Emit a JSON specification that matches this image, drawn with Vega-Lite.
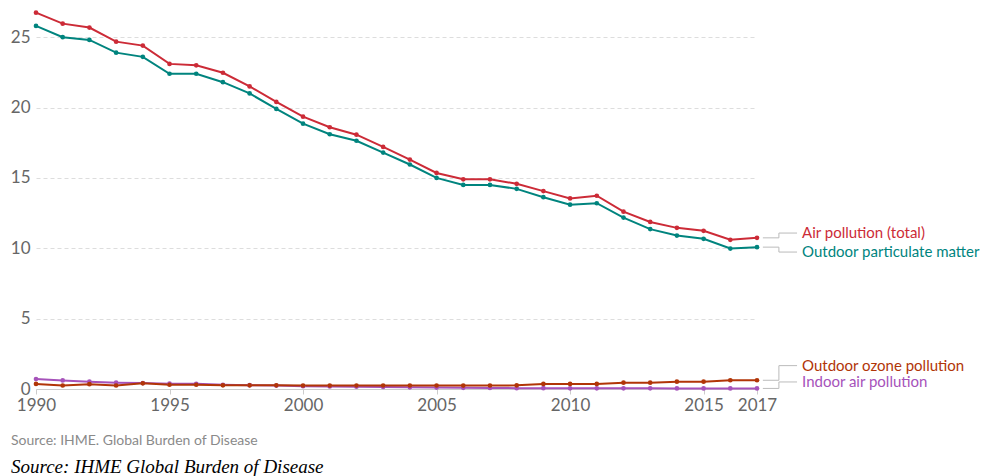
{
  "$schema": "https://vega.github.io/schema/vega-lite/v6.json",
  "width": 721,
  "height": 380,
  "autosize": "none",
  "padding": {"left": 36, "top": 9, "right": 227, "bottom": 87},
  "background": "white",
  "config": {
    "view": {"stroke": null},
    "font": "Lato",
    "axis": {"labelFont": "Lato", "labelColor": "#666666", "labelFontSize": 17}
  },
  "title": {
    "text": "Source: IHME. Global Burden of Disease",
    "subtitle": "Source: IHME Global Burden of Disease",
    "orient": "bottom",
    "anchor": "start",
    "frame": "group",
    "dx": -25,
    "offset": 21,
    "font": "Lato",
    "fontSize": 14,
    "fontWeight": "normal",
    "color": "#8a8a8a",
    "subtitleFont": "Liberation Serif",
    "subtitleFontStyle": "italic",
    "subtitleFontSize": 19,
    "subtitleColor": "#000000",
    "subtitlePadding": 10
  },
  "datasets": {
    "series": [
      {"year": 1990, "series": "Air pollution (total)", "value": 26.74},
      {"year": 1991, "series": "Air pollution (total)", "value": 25.96},
      {"year": 1992, "series": "Air pollution (total)", "value": 25.68},
      {"year": 1993, "series": "Air pollution (total)", "value": 24.68},
      {"year": 1994, "series": "Air pollution (total)", "value": 24.4},
      {"year": 1995, "series": "Air pollution (total)", "value": 23.1},
      {"year": 1996, "series": "Air pollution (total)", "value": 23.0},
      {"year": 1997, "series": "Air pollution (total)", "value": 22.47},
      {"year": 1998, "series": "Air pollution (total)", "value": 21.5},
      {"year": 1999, "series": "Air pollution (total)", "value": 20.4},
      {"year": 2000, "series": "Air pollution (total)", "value": 19.35},
      {"year": 2001, "series": "Air pollution (total)", "value": 18.6},
      {"year": 2002, "series": "Air pollution (total)", "value": 18.07},
      {"year": 2003, "series": "Air pollution (total)", "value": 17.2},
      {"year": 2004, "series": "Air pollution (total)", "value": 16.3},
      {"year": 2005, "series": "Air pollution (total)", "value": 15.35},
      {"year": 2006, "series": "Air pollution (total)", "value": 14.9},
      {"year": 2007, "series": "Air pollution (total)", "value": 14.9},
      {"year": 2008, "series": "Air pollution (total)", "value": 14.58},
      {"year": 2009, "series": "Air pollution (total)", "value": 14.06},
      {"year": 2010, "series": "Air pollution (total)", "value": 13.54},
      {"year": 2011, "series": "Air pollution (total)", "value": 13.73},
      {"year": 2012, "series": "Air pollution (total)", "value": 12.6},
      {"year": 2013, "series": "Air pollution (total)", "value": 11.87},
      {"year": 2014, "series": "Air pollution (total)", "value": 11.45},
      {"year": 2015, "series": "Air pollution (total)", "value": 11.24},
      {"year": 2016, "series": "Air pollution (total)", "value": 10.6},
      {"year": 2017, "series": "Air pollution (total)", "value": 10.74},
      {"year": 1990, "series": "Outdoor particulate matter", "value": 25.8},
      {"year": 1991, "series": "Outdoor particulate matter", "value": 25.0},
      {"year": 1992, "series": "Outdoor particulate matter", "value": 24.8},
      {"year": 1993, "series": "Outdoor particulate matter", "value": 23.9},
      {"year": 1994, "series": "Outdoor particulate matter", "value": 23.6},
      {"year": 1995, "series": "Outdoor particulate matter", "value": 22.4},
      {"year": 1996, "series": "Outdoor particulate matter", "value": 22.4},
      {"year": 1997, "series": "Outdoor particulate matter", "value": 21.8},
      {"year": 1998, "series": "Outdoor particulate matter", "value": 21.0},
      {"year": 1999, "series": "Outdoor particulate matter", "value": 19.9},
      {"year": 2000, "series": "Outdoor particulate matter", "value": 18.85},
      {"year": 2001, "series": "Outdoor particulate matter", "value": 18.1},
      {"year": 2002, "series": "Outdoor particulate matter", "value": 17.64},
      {"year": 2003, "series": "Outdoor particulate matter", "value": 16.8},
      {"year": 2004, "series": "Outdoor particulate matter", "value": 15.95},
      {"year": 2005, "series": "Outdoor particulate matter", "value": 15.0},
      {"year": 2006, "series": "Outdoor particulate matter", "value": 14.5},
      {"year": 2007, "series": "Outdoor particulate matter", "value": 14.5},
      {"year": 2008, "series": "Outdoor particulate matter", "value": 14.22},
      {"year": 2009, "series": "Outdoor particulate matter", "value": 13.63},
      {"year": 2010, "series": "Outdoor particulate matter", "value": 13.1},
      {"year": 2011, "series": "Outdoor particulate matter", "value": 13.2},
      {"year": 2012, "series": "Outdoor particulate matter", "value": 12.18},
      {"year": 2013, "series": "Outdoor particulate matter", "value": 11.36},
      {"year": 2014, "series": "Outdoor particulate matter", "value": 10.9},
      {"year": 2015, "series": "Outdoor particulate matter", "value": 10.67},
      {"year": 2016, "series": "Outdoor particulate matter", "value": 9.98},
      {"year": 2017, "series": "Outdoor particulate matter", "value": 10.08},
      {"year": 1990, "series": "Indoor air pollution", "value": 0.71},
      {"year": 1991, "series": "Indoor air pollution", "value": 0.61},
      {"year": 1992, "series": "Indoor air pollution", "value": 0.52},
      {"year": 1993, "series": "Indoor air pollution", "value": 0.45},
      {"year": 1994, "series": "Indoor air pollution", "value": 0.42},
      {"year": 1995, "series": "Indoor air pollution", "value": 0.38},
      {"year": 1996, "series": "Indoor air pollution", "value": 0.37},
      {"year": 1997, "series": "Indoor air pollution", "value": 0.3},
      {"year": 1998, "series": "Indoor air pollution", "value": 0.27},
      {"year": 1999, "series": "Indoor air pollution", "value": 0.24},
      {"year": 2000, "series": "Indoor air pollution", "value": 0.2},
      {"year": 2001, "series": "Indoor air pollution", "value": 0.18},
      {"year": 2002, "series": "Indoor air pollution", "value": 0.16},
      {"year": 2003, "series": "Indoor air pollution", "value": 0.14},
      {"year": 2004, "series": "Indoor air pollution", "value": 0.12},
      {"year": 2005, "series": "Indoor air pollution", "value": 0.1},
      {"year": 2006, "series": "Indoor air pollution", "value": 0.08},
      {"year": 2007, "series": "Indoor air pollution", "value": 0.07},
      {"year": 2008, "series": "Indoor air pollution", "value": 0.06},
      {"year": 2009, "series": "Indoor air pollution", "value": 0.06},
      {"year": 2010, "series": "Indoor air pollution", "value": 0.05},
      {"year": 2011, "series": "Indoor air pollution", "value": 0.05},
      {"year": 2012, "series": "Indoor air pollution", "value": 0.05},
      {"year": 2013, "series": "Indoor air pollution", "value": 0.05},
      {"year": 2014, "series": "Indoor air pollution", "value": 0.04},
      {"year": 2015, "series": "Indoor air pollution", "value": 0.04},
      {"year": 2016, "series": "Indoor air pollution", "value": 0.04},
      {"year": 2017, "series": "Indoor air pollution", "value": 0.04},
      {"year": 1990, "series": "Outdoor ozone pollution", "value": 0.36},
      {"year": 1991, "series": "Outdoor ozone pollution", "value": 0.25},
      {"year": 1992, "series": "Outdoor ozone pollution", "value": 0.34},
      {"year": 1993, "series": "Outdoor ozone pollution", "value": 0.25},
      {"year": 1994, "series": "Outdoor ozone pollution", "value": 0.4},
      {"year": 1995, "series": "Outdoor ozone pollution", "value": 0.3},
      {"year": 1996, "series": "Outdoor ozone pollution", "value": 0.3},
      {"year": 1997, "series": "Outdoor ozone pollution", "value": 0.26},
      {"year": 1998, "series": "Outdoor ozone pollution", "value": 0.26},
      {"year": 1999, "series": "Outdoor ozone pollution", "value": 0.26},
      {"year": 2000, "series": "Outdoor ozone pollution", "value": 0.25},
      {"year": 2001, "series": "Outdoor ozone pollution", "value": 0.25},
      {"year": 2002, "series": "Outdoor ozone pollution", "value": 0.25},
      {"year": 2003, "series": "Outdoor ozone pollution", "value": 0.25},
      {"year": 2004, "series": "Outdoor ozone pollution", "value": 0.25},
      {"year": 2005, "series": "Outdoor ozone pollution", "value": 0.25},
      {"year": 2006, "series": "Outdoor ozone pollution", "value": 0.24},
      {"year": 2007, "series": "Outdoor ozone pollution", "value": 0.25},
      {"year": 2008, "series": "Outdoor ozone pollution", "value": 0.26},
      {"year": 2009, "series": "Outdoor ozone pollution", "value": 0.36},
      {"year": 2010, "series": "Outdoor ozone pollution", "value": 0.36},
      {"year": 2011, "series": "Outdoor ozone pollution", "value": 0.36},
      {"year": 2012, "series": "Outdoor ozone pollution", "value": 0.45},
      {"year": 2013, "series": "Outdoor ozone pollution", "value": 0.45},
      {"year": 2014, "series": "Outdoor ozone pollution", "value": 0.52},
      {"year": 2015, "series": "Outdoor ozone pollution", "value": 0.52},
      {"year": 2016, "series": "Outdoor ozone pollution", "value": 0.62},
      {"year": 2017, "series": "Outdoor ozone pollution", "value": 0.62}
    ],
    "labels": [
      {"series": "Air pollution (total)", "value": 10.74, "labelValue": 11.08},
      {"series": "Outdoor particulate matter", "value": 10.08, "labelValue": 9.73},
      {"series": "Outdoor ozone pollution", "value": 0.62, "labelValue": 1.66},
      {"series": "Indoor air pollution", "value": 0.04, "labelValue": 0.5}
    ]
  },
  "layer": [
    {
      "data": {"name": "series"},
      "mark": {"type": "line", "strokeWidth": 2, "point": {"filled": true, "size": 22}},
      "encoding": {
        "x": {
          "field": "year", "type": "quantitative",
          "scale": {"domain": [1990, 2017], "nice": false, "zero": false},
          "axis": {
            "title": null,
            "values": [1990, 1995, 2000, 2005, 2010, 2015, 2017],
            "format": "d",
            "grid": false,
            "domainColor": "#cccccc",
            "tickColor": "#cccccc",
            "tickSize": 5,
            "labelPadding": 3,
            "labelFlush": false
          }
        },
        "y": {
          "field": "value", "type": "quantitative",
          "scale": {"domain": [0, 27], "nice": false},
          "axis": {
            "title": null,
            "values": [0, 5, 10, 15, 20, 25],
            "domain": false,
            "ticks": false,
            "labelPadding": 6,
            "gridColor": "#dddddd",
            "gridDash": [4, 3],
            "gridWidth": 1
          }
        },
        "color": {
          "field": "series", "type": "nominal",
          "scale": {
            "domain": ["Air pollution (total)", "Outdoor particulate matter", "Indoor air pollution", "Outdoor ozone pollution"],
            "range": ["#CC2B37", "#00847E", "#A652BA", "#B13507"]
          },
          "legend": null
        },
        "order": {"field": "year"}
      }
    },
    {
      "data": {"name": "labels"},
      "mark": {"type": "rule", "color": "#bbbbbb", "strokeWidth": 1},
      "encoding": {
        "x": {"datum": 2017.22, "type": "quantitative"},
        "x2": {"datum": 2017.82},
        "y": {"field": "value", "type": "quantitative"}
      }
    },
    {
      "data": {"name": "labels"},
      "mark": {"type": "rule", "color": "#bbbbbb", "strokeWidth": 1},
      "encoding": {
        "x": {"datum": 2017.82, "type": "quantitative"},
        "y": {"field": "value", "type": "quantitative"},
        "y2": {"field": "labelValue"}
      }
    },
    {
      "data": {"name": "labels"},
      "mark": {"type": "rule", "color": "#bbbbbb", "strokeWidth": 1},
      "encoding": {
        "x": {"datum": 2017.82, "type": "quantitative"},
        "x2": {"datum": 2018.5},
        "y": {"field": "labelValue", "type": "quantitative"}
      }
    },
    {
      "data": {"name": "labels"},
      "mark": {"type": "text", "align": "left", "baseline": "middle", "dx": 5, "font": "Lato", "fontSize": 15},
      "encoding": {
        "x": {"datum": 2018.5, "type": "quantitative"},
        "y": {"field": "labelValue", "type": "quantitative"},
        "text": {"field": "series"},
        "color": {
          "field": "series", "type": "nominal",
          "scale": {
            "domain": ["Air pollution (total)", "Outdoor particulate matter", "Indoor air pollution", "Outdoor ozone pollution"],
            "range": ["#CC2B37", "#00847E", "#A652BA", "#B13507"]
          },
          "legend": null
        }
      }
    }
  ]
}
